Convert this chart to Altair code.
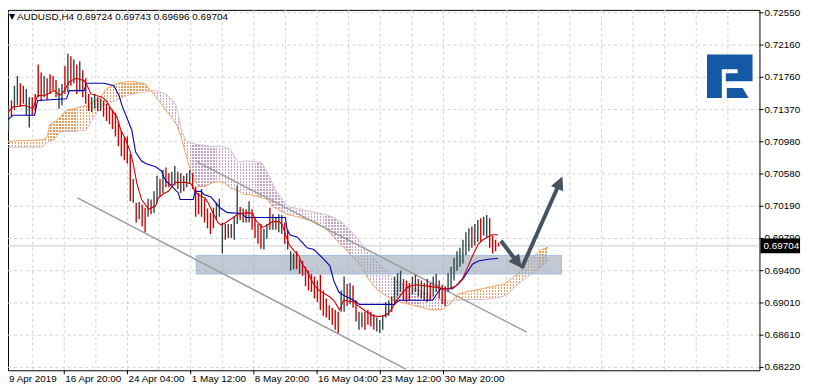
import math
import altair as alt
import pandas as pd

# ---------------- data ----------------
title_text = "AUDUSD,H4 0.69724 0.69743 0.69696 0.69704"
last_price = 0.69704

bar_high = [
    0.7150, 0.7142, 0.7142, 0.7148, 0.7166, 0.7178, 0.7169, 0.7166, 0.7162, 0.7152,
    0.7152, 0.7156, 0.7192, 0.7182, 0.7178, 0.7175, 0.7180, 0.7178, 0.7173, 0.7163,
    0.7168, 0.7190, 0.7205, 0.7202, 0.7198, 0.7192, 0.7196, 0.7185, 0.7175, 0.7156,
    0.7152, 0.7156, 0.7152, 0.7150, 0.7148, 0.7144, 0.7140, 0.7137, 0.7133, 0.7123,
    0.7111, 0.7103, 0.7104, 0.7083, 0.7052, 0.7023, 0.7024, 0.7021, 0.7017, 0.7028,
    0.7027, 0.7037, 0.7056, 0.7052, 0.7063, 0.7066, 0.7059, 0.7061, 0.7068, 0.7061,
    0.7059, 0.7056, 0.7059, 0.7063, 0.7059, 0.7043, 0.7035, 0.7040, 0.7028, 0.7016,
    0.7011, 0.7017, 0.7023, 0.7028, 0.6999, 0.6997, 0.6997, 0.6997, 0.7006, 0.7044,
    0.7018, 0.7016, 0.7015, 0.7025, 0.7015, 0.7004, 0.6997, 0.6997, 0.6991, 0.6997,
    0.7017, 0.7009, 0.7006, 0.7009, 0.7008, 0.6999, 0.6990, 0.6964, 0.6961, 0.6964,
    0.6954, 0.6952, 0.6945, 0.6940, 0.6936, 0.6933, 0.6928, 0.6935, 0.6916, 0.6906,
    0.6898, 0.6895, 0.6892, 0.6890, 0.6916, 0.6933, 0.6924, 0.6925, 0.6922, 0.6904,
    0.6890, 0.6889, 0.6890, 0.6892, 0.6890, 0.6887, 0.6883, 0.6880, 0.6885, 0.6902,
    0.6904, 0.6909, 0.6933, 0.6937, 0.6940, 0.6930, 0.6928, 0.6925, 0.6933, 0.6935,
    0.6930, 0.6928, 0.6925, 0.6930, 0.6925, 0.6933, 0.6936, 0.6928, 0.6923, 0.6921,
    0.6937, 0.6945, 0.6956, 0.6964, 0.6968, 0.6978, 0.6987, 0.6992, 0.6994, 0.6997,
    0.7002, 0.7004, 0.7006, 0.7008, 0.7004, 0.6983, 0.6978, 0.69743,
]
bar_low = [
    0.7127, 0.7121, 0.7110, 0.7128, 0.7136, 0.7142, 0.7140, 0.7144, 0.7130, 0.7115,
    0.7130, 0.7135, 0.7152, 0.7147, 0.7152, 0.7149, 0.7156, 0.7160, 0.7152, 0.7138,
    0.7142, 0.7156, 0.7158, 0.7166, 0.7169, 0.7156, 0.7159, 0.7152, 0.7144, 0.7135,
    0.7134, 0.7138, 0.7135, 0.7135, 0.7128, 0.7123, 0.7119, 0.7113, 0.7104, 0.7092,
    0.7080, 0.7075, 0.7071, 0.7025, 0.7023, 0.6999, 0.7003, 0.6994, 0.6987, 0.7006,
    0.7009, 0.7011, 0.7023, 0.7030, 0.7035, 0.7042, 0.7042, 0.7044, 0.7044, 0.7040,
    0.7035, 0.7037, 0.7042, 0.7047, 0.7040, 0.7006, 0.7009, 0.7006, 0.6999, 0.6992,
    0.6985, 0.6992, 0.7002, 0.7006, 0.6961, 0.6978, 0.6980, 0.6980, 0.6978, 0.6997,
    0.7002, 0.6999, 0.6999, 0.6999, 0.6990, 0.6980, 0.6973, 0.6967, 0.6966, 0.6979,
    0.6990, 0.6990, 0.6990, 0.6987, 0.6985, 0.6973, 0.6966, 0.6940, 0.6942, 0.6942,
    0.6936, 0.6934, 0.6921, 0.6916, 0.6914, 0.6906, 0.6902, 0.6892, 0.6885, 0.6883,
    0.6880, 0.6874, 0.6868, 0.6864, 0.6890, 0.6890, 0.6897, 0.6899, 0.6895, 0.6878,
    0.6868, 0.6871, 0.6868, 0.6874, 0.6872, 0.6868, 0.6866, 0.6864, 0.6868, 0.6883,
    0.6885, 0.6890, 0.6898, 0.6909, 0.6914, 0.6904, 0.6902, 0.6904, 0.6911, 0.6914,
    0.6909, 0.6906, 0.6904, 0.6902, 0.6904, 0.6909, 0.6914, 0.6906, 0.6899, 0.6897,
    0.6914, 0.6918, 0.6928, 0.6940, 0.6945, 0.6949, 0.6959, 0.6964, 0.6968, 0.6971,
    0.6975, 0.6975, 0.6983, 0.6980, 0.6968, 0.6961, 0.6964, 0.69696,
]
# u = bullish bar (dark), d = bearish bar (red)
bar_dir = (
    "dd" "u" "d" "uu" "dd" "uu"
    "dddd" "u" "dddd" "u"
    "ud" "ud" "ud" "ud" "dd"
    "uu" "d" "u" "dddddd"
    "dddd" "u" "d" "u" "dd" "u"
    "d" "uu" "d" "u" "dd" "uu" "d"
    "u" "d" "uu" "ddd" "u" "dd"
    "dd" "uuu" "d" "u" "d" "uu"
    "dudu" "dddd" "uu"
    "dud" "uu" "dd" "uu" "d"
    "u" "ddddddddd"
    "dddd" "uu" "d" "u" "dd"
    "uu" "dddd" "uuuu"
    "u" "d" "uuu" "ddd" "u" "d"
    "udu" "dd" "uu" "ddd"
    "uuuuuuuu" "d" "u"
    "u" "d" "uu" "dddd"
)
assert len(bar_high) == len(bar_low) == len(bar_dir) == 168

tenkan_u = [-0.8, 0.8, 3.5, 7.5, 10.2, 11.8, 14.2, 17.5, 19.2, 20.8, 22.5, 24.8, 27.5, 28.5, 29.8,
            31.5, 33.5, 34.8, 36.5, 38.5, 39.8, 41.5, 43.2, 44.2, 45.2, 46.8, 49.2, 51.5, 52.5, 54.2,
            55.8, 58.2, 61.5, 63.5, 64.8, 65.8, 68.2, 69.2, 70.8, 72.5, 73.5, 74.8, 76.8, 79.2, 82.5,
            84.2, 85.2, 87.5, 89.2, 90.8, 93.2, 94.2, 95.2, 96.5, 98.2, 99.8, 100.8, 102.5, 104.8, 106.5,
            108.5, 110.2, 111.5, 113.5, 114.8, 118.2, 120.2, 122.5, 124.8, 126.8, 129.2, 130.8, 132.5, 134.8, 136.8,
            139.2, 141.5, 143.5, 145.8, 148.2, 150.2, 152.5, 154.8, 156.8, 158.2, 160.2, 161.8, 163.2, 164.8, 166.8]
tenkan_p = [0.7124, 0.7130, 0.7140, 0.7142, 0.7138, 0.7154, 0.7154, 0.7160, 0.7154, 0.7160, 0.7171, 0.7175, 0.7172, 0.7166, 0.7156,
            0.7154, 0.7152, 0.7148, 0.7138, 0.7128, 0.7112, 0.7100, 0.7083, 0.7067, 0.7047, 0.7027, 0.7015, 0.7019, 0.7029, 0.7034,
            0.7037, 0.7048, 0.7048, 0.7046, 0.7037, 0.7033, 0.7029, 0.7023, 0.7011, 0.6999, 0.6996, 0.6998, 0.7003, 0.7009, 0.7011,
            0.7010, 0.7002, 0.6993, 0.6996, 0.7000, 0.7000, 0.6996, 0.6985, 0.6972, 0.6964, 0.6958, 0.6949, 0.6940, 0.6923, 0.6916,
            0.6912, 0.6908, 0.6904, 0.6892, 0.6904, 0.6902, 0.6896, 0.6890, 0.6885, 0.6884, 0.6886, 0.6892, 0.6903, 0.6914, 0.6921,
            0.6923, 0.6922, 0.6921, 0.6920, 0.6918, 0.6918, 0.6921, 0.6930, 0.6946, 0.6958, 0.6973, 0.6978, 0.6981, 0.6984, 0.6984]

kijun_u = [-0.8, 0.8, 3.5, 10.8, 11.8, 21.5, 22.5, 27.5, 28.2, 34.2, 37.5, 39.2, 40.2, 43.5, 44.8,
           46.8, 48.2, 51.5, 53.5, 54.2, 55.2, 56.8, 59.2, 59.8, 64.2, 64.8, 66.8, 67.8, 70.2, 71.8,
           73.2, 74.8, 75.8, 80.8, 81.8, 95.2, 95.8, 96.8, 99.2, 100.8, 102.5, 104.8, 106.5, 108.2, 110.2,
           111.5, 113.2, 114.8, 118.2, 120.2, 131.8, 133.5, 144.8, 146.8, 147.5, 151.5, 153.5, 155.2, 156.8, 158.2,
           160.2, 163.5, 166.8]
kijun_p = [0.7118, 0.7121, 0.7130, 0.7130, 0.7148, 0.7150, 0.7160, 0.7160, 0.7169, 0.7169, 0.7166, 0.7154, 0.7142, 0.7112, 0.7085,
           0.7074, 0.7071, 0.7067, 0.7062, 0.7055, 0.7049, 0.7044, 0.7035, 0.7027, 0.7027, 0.7037, 0.7037, 0.7033, 0.7030, 0.7023,
           0.7017, 0.7013, 0.7011, 0.7010, 0.7005, 0.7005, 0.6990, 0.6984, 0.6981, 0.6975, 0.6968, 0.6966, 0.6960, 0.6954, 0.6946,
           0.6928, 0.6914, 0.6910, 0.6904, 0.6899, 0.6899, 0.6904, 0.6904, 0.6915, 0.6918, 0.6918, 0.6924, 0.6931, 0.6940, 0.6948,
           0.6952, 0.6954, 0.6955]

cloud_u = [-0.8, 2.5, 5.8, 9.2, 13.2, 14.2, 15.2, 15.8, 17.5, 19.2, 21.5, 24.2, 28.2, 30.8, 32.5,
           33.8, 34.8, 37.5, 39.2, 41.8, 44.2, 46.5, 48.2, 49.2, 50.2, 51.5, 52.5, 54.8, 56.8, 58.5,
           60.2, 61.5, 63.5, 65.8, 68.2, 70.2, 72.5, 74.8, 76.8, 79.2, 81.5, 83.5, 85.8, 87.5, 89.2,
           90.8, 92.5, 95.8, 100.2, 105.8, 109.2, 111.5, 114.8, 116.8, 119.2, 120.8, 123.2, 125.8, 129.2, 131.5,
           135.8, 140.2, 144.8, 148.2, 150.8, 152.5, 153.5, 156.8, 161.5, 164.8, 168.2, 170.2, 172.5, 174.8, 176.8,
           179.2, 181.5, 183.8]
span_a = [0.7098, 0.7098, 0.7099, 0.7099, 0.7100, 0.7100, 0.7106, 0.7118, 0.7122, 0.7127, 0.7136, 0.7138, 0.7142, 0.7147, 0.7150,
          0.7156, 0.7162, 0.7167, 0.7169, 0.7171, 0.7171, 0.7169, 0.7168, 0.7163, 0.7159, 0.7153, 0.7148, 0.7137, 0.7128, 0.7119,
          0.7103, 0.7085, 0.7059, 0.7043, 0.7043, 0.7047, 0.7049, 0.7047, 0.7041, 0.7038, 0.7033, 0.7033, 0.7031, 0.7029, 0.7027,
          0.7019, 0.7015, 0.7009, 0.7005, 0.6999, 0.6990, 0.6981, 0.6969, 0.6961, 0.6952, 0.6945, 0.6930, 0.6918, 0.6909, 0.6904,
          0.6900, 0.6896, 0.6892, 0.6893, 0.6900, 0.6908, 0.6912, 0.6915, 0.6918, 0.6921, 0.6923, 0.6927, 0.6934, 0.6942, 0.6952,
          0.6959, 0.6966, 0.6969]
span_b = [0.7091, 0.7091, 0.7091, 0.7091, 0.7091, 0.7094, 0.7097, 0.7098, 0.7100, 0.7109, 0.7110, 0.7110, 0.7112, 0.7128, 0.7136,
          0.7142, 0.7143, 0.7147, 0.7150, 0.7154, 0.7156, 0.7158, 0.7158, 0.7159, 0.7160, 0.7160, 0.7159, 0.7156, 0.7150, 0.7142,
          0.7112, 0.7100, 0.7096, 0.7094, 0.7093, 0.7092, 0.7092, 0.7091, 0.7088, 0.7073, 0.7074, 0.7074, 0.7073, 0.7071, 0.7059,
          0.7047, 0.7035, 0.7019, 0.7015, 0.7011, 0.7008, 0.7005, 0.6997, 0.6990, 0.6981, 0.6973, 0.6964, 0.6952, 0.6940, 0.6931,
          0.6922, 0.6916, 0.6909, 0.6904, 0.6903, 0.6904, 0.6904, 0.6905, 0.6905, 0.6906, 0.6908, 0.6912, 0.6920, 0.6927, 0.6933,
          0.6939, 0.6945, 0.6954]
assert len(cloud_u) == len(span_a) == len(span_b)

channel_u = [[25.2, 135.8], [65.5, 176.5]]
channel_p = [[0.7029, 0.6820], [0.7073, 0.6865]]
zone_u = [65.2, 188.2]
zone_p = [0.69587, 0.69361]
arrow_u = [[167.8, 174.8], [174.8, 188.5]]
arrow_p = [[0.69766, 0.69433], [0.69433, 0.70551]]

price_labels = ["0.72550", "0.72160", "0.71760", "0.71370", "0.70980", "0.70580",
                "0.70190", "0.69790", "0.69400", "0.69010", "0.68610", "0.68220"]
time_labels = ["9 Apr 2019", "16 Apr 20:00", "24 Apr 04:00", "1 May 12:00",
               "8 May 20:00", "16 May 04:00", "23 May 12:00", "30 May 20:00"]

# ---------------- layout / styling ----------------
W, H = 759, 364
PXU = 3.0
X_DOM = [1.8333, 1.8333 + W / PXU]
Y_DOM = [0.68185, 0.72586]
YS = H / (Y_DOM[1] - Y_DOM[0])
FONT = "Liberation Sans"

BULL, BEAR = "#2a4848", "#d00000"
TENKAN, KIJUN = "#d00000", "#0000b0"
SA_LINE, SB_LINE = "#f4a460", "#d8bfd8"
HATCH_UP, HATCH_DN = "#ee9e58", "#c6a2c6"
CHANNEL = "#9c9c9c"
ARROW = "#46525e"
GRID = "#d2d2d2"

xs = alt.Scale(domain=X_DOM, nice=False, zero=False)
ys = alt.Scale(domain=Y_DOM, nice=False, zero=False)


def X(f):
    return alt.X(f, type="quantitative", scale=xs, axis=None)


def Y(f):
    return alt.Y(f, type="quantitative", scale=ys, axis=None)


p_top = float(price_labels[0])
p_bot = float(price_labels[-1])
step = (p_top - p_bot) / (len(price_labels) - 1)
grid_prices = [p_top - k * step for k in range(len(price_labels))]
ygrid = pd.DataFrame({"p": grid_prices, "t": price_labels})

layers = []

# horizontal dashed grid
layers.append(alt.Chart(ygrid).mark_rule(color=GRID, strokeDash=[3, 3], strokeWidth=1).encode(
    y=Y("p"), x=alt.value(0), x2=alt.value(W)))

# vertical grid lines
grid_step = (W + 7) / 24 / PXU
vgrid = pd.DataFrame({"u": [-0.5 + k * grid_step for k in range(1, 24)]})
layers.append(alt.Chart(vgrid).mark_rule(color=GRID, strokeDash=[3, 3], strokeWidth=1).encode(
    x=X("u"), y=alt.value(0), y2=alt.value(H)))

# bid line
layers.append(alt.Chart(pd.DataFrame({"p": [last_price]})).mark_rule(color="#c8c8c8", strokeWidth=1).encode(
    y=Y("p"), x=alt.value(0), x2=alt.value(W)))


# Ichimoku cloud, split where the spans cross
def stripe_stops(color, size_px, on_px=1.0, pitch=3.0):
    n = max(1, int(round(size_px / pitch)))
    clear = "rgba(255,255,255,0)"
    stops = []
    for j in range(n):
        o0 = round(j / n, 6)
        o1 = round(min(1.0, (j + on_px / pitch) / n), 6)
        o2 = round(min(1.0, (j + 1) / n), 6)
        stops += [alt.GradientStop(color=color, offset=o0), alt.GradientStop(color=color, offset=o1),
                  alt.GradientStop(color=clear, offset=o1), alt.GradientStop(color=clear, offset=o2)]
    return stops


segments = []
cur = []
prev = None
for k in range(len(cloud_u)):
    up = span_a[k] >= span_b[k]
    if prev is not None and up != prev:
        d0 = span_a[k - 1] - span_b[k - 1]
        d1 = span_a[k] - span_b[k]
        t = d0 / (d0 - d1)
        uc = cloud_u[k - 1] + t * (cloud_u[k] - cloud_u[k - 1])
        pc = span_a[k - 1] + t * (span_a[k] - span_a[k - 1])
        cur.append((uc, pc, pc))
        segments.append((prev, cur))
        cur = [(uc, pc, pc)]
    cur.append((cloud_u[k], span_a[k], span_b[k]))
    prev = up
segments.append((prev, cur))

for up, rows in segments:
    df = pd.DataFrame(rows, columns=["u", "a", "b"])
    wpx = (df.u.max() - df.u.min()) * PXU
    hpx = (max(df.a.max(), df.b.max()) - min(df.a.min(), df.b.min())) * YS
    col = HATCH_UP if up else HATCH_DN
    g_cols = alt.LinearGradient(gradient="linear", stops=stripe_stops(col, wpx, 1.4), x1=0, x2=1, y1=0, y2=0)
    g_rows = alt.LinearGradient(gradient="linear", stops=stripe_stops("#ffffff", hpx, 1.0), x1=0, x2=0, y1=0, y2=1)
    base = alt.Chart(df)
    layers.append(base.mark_area(fill=g_cols, opacity=1, clip=True, orient="vertical").encode(
        x=X("u"), y=Y("a"), y2="b:Q"))
    layers.append(base.mark_area(fill=g_rows, opacity=1, clip=True, orient="vertical").encode(
        x=X("u"), y=Y("a"), y2="b:Q"))

cloud_df = pd.DataFrame({"u": cloud_u, "a": span_a, "b": span_b})
layers.append(alt.Chart(cloud_df).mark_line(color=SB_LINE, strokeWidth=1, clip=True).encode(x=X("u"), y=Y("b")))
layers.append(alt.Chart(cloud_df).mark_line(color=SA_LINE, strokeWidth=1, clip=True).encode(x=X("u"), y=Y("a")))

# support zone
zone_df = pd.DataFrame({"u0": [zone_u[0]], "u1": [zone_u[1]], "p0": [zone_p[0]], "p1": [zone_p[1]]})
layers.append(alt.Chart(zone_df).mark_rect(fill="#98a6b8", fillOpacity=0.6, stroke="#a2bce2", strokeWidth=1).encode(
    x=X("u0"), x2="u1:Q", y=Y("p0"), y2="p1:Q"))

# channel lines
ch_rows = []
for lid in range(2):
    for j in range(2):
        ch_rows.append({"line": lid, "u": channel_u[lid][j], "p": channel_p[lid][j]})
layers.append(alt.Chart(pd.DataFrame(ch_rows)).mark_line(color=CHANNEL, strokeWidth=1.5, clip=True).encode(
    x=X("u"), y=Y("p"), detail="line:N"))

# OHLC bars
bars = pd.DataFrame({"u": list(range(len(bar_high))), "hi": bar_high, "lo": bar_low, "dir": list(bar_dir)})
layers.append(alt.Chart(bars).mark_rule(strokeWidth=1.4, clip=True).encode(
    x=X("u"), y=Y("hi"), y2="lo:Q",
    color=alt.Color("dir:N", scale=alt.Scale(domain=["u", "d"], range=[BULL, BEAR]), legend=None)))

# Ichimoku lines
layers.append(alt.Chart(pd.DataFrame({"u": kijun_u, "p": kijun_p})).mark_line(
    color=KIJUN, strokeWidth=1.1, clip=True).encode(x=X("u"), y=Y("p")))
layers.append(alt.Chart(pd.DataFrame({"u": tenkan_u, "p": tenkan_p})).mark_line(
    color=TENKAN, strokeWidth=1.1, clip=True).encode(x=X("u"), y=Y("p")))

# arrows
HEAD = 8.0
a_lines, a_heads = [], []
for aid in range(2):
    u0, u1 = arrow_u[aid]
    p0, p1 = arrow_p[aid]
    dx = (u1 - u0) * PXU
    dy = -(p1 - p0) * YS
    L = math.hypot(dx, dy)
    f = (L - HEAD) / L
    a_lines += [{"a": aid, "u": u0, "p": p0}, {"a": aid, "u": u0 + f * (u1 - u0), "p": p0 + f * (p1 - p0)}]
    a_heads.append({"u": u1, "p": p1, "ang": math.degrees(math.atan2(dx, -dy)) % 360})
layers.append(alt.Chart(pd.DataFrame(a_lines)).mark_line(color=ARROW, strokeWidth=4, strokeCap="butt").encode(
    x=X("u"), y=Y("p"), detail="a:N"))
layers.append(alt.Chart(pd.DataFrame(a_heads)).mark_point(
    shape="M0,0L1,2L-1,2Z", filled=True, size=180, color=ARROW, opacity=1).encode(
    x=X("u"), y=Y("p"), angle=alt.Angle("ang:Q", scale=None)))

# price scale on the right: ticks and labels
layers.append(alt.Chart(ygrid).mark_rule(color="#000", strokeWidth=1).encode(
    y=Y("p"), x=alt.value(W), x2=alt.value(W + 4)))
layers.append(alt.Chart(ygrid).mark_text(align="left", baseline="middle", font=FONT, fontSize=10,
                                        color="#000").encode(x=alt.value(W + 5), y=Y("p"), text="t:N"))

# current price box on the price scale
box_h = 7.5 / YS
layers.append(alt.Chart(pd.DataFrame({"p0": [last_price + box_h], "p1": [last_price - box_h]})).mark_rect(
    color="#000").encode(x=alt.value(W + 1), x2=alt.value(W + 41), y=Y("p0"), y2="p1:Q"))
layers.append(alt.Chart(pd.DataFrame({"p": [last_price], "t": ["%.5f" % last_price]})).mark_text(
    color="#fff", align="left", baseline="middle", font=FONT, fontSize=10).encode(
    x=alt.value(W + 4), y=Y("p"), text="t:N"))

# time axis: ticks and labels
tick_u = [-0.5 + k * grid_step for k in range(0, 16, 2)]
lab_u = [max(X_DOM[0], u) for u in tick_u]
tdf = pd.DataFrame({"u": lab_u, "t": time_labels})
layers.append(alt.Chart(pd.DataFrame({"u": tick_u[1:]})).mark_rule(color="#000").encode(
    x=X("u"), y=alt.value(H), y2=alt.value(H + 4)))
layers.append(alt.Chart(tdf).mark_text(align="left", baseline="middle", dx=1, font=FONT, fontSize=10,
                                       color="#000").encode(x=X("u"), y=alt.value(H + 9), text="t:N"))

# header text
layers.append(alt.Chart(pd.DataFrame({"t": ["\u25bc"]})).mark_text(
    align="left", baseline="middle", font="DejaVu Sans", fontSize=8, color="#000").encode(
    x=alt.value(1), y=alt.value(7), text="t:N"))
layers.append(alt.Chart(pd.DataFrame({"t": [title_text]})).mark_text(
    align="left", baseline="middle", font=FONT, fontSize=10, color="#000").encode(
    x=alt.value(9), y=alt.value(7), text="t:N"))

# broker logo
logo_path = ("M-1,-0.957H1V0.217H-0.174V-0.13H0.348V-0.304H-0.348V0.957H-1Z"
             "M-0.13,0.522H0.565L0.826,0.957H-0.13Z")
layers.append(alt.Chart(pd.DataFrame({"k": [0]})).mark_point(
    shape=logo_path, filled=True, size=2116, color="#1559a6", opacity=1).encode(
    x=alt.value(729), y=alt.value(67)))

chart = alt.layer(*layers).properties(
    width=W, height=H,
    padding={"left": 0, "top": 0, "right": 47, "bottom": 16},
    autosize=alt.AutoSizeParams(type="none"),
    background="white",
).configure_view(stroke="#000", strokeWidth=1)

chart.save("out.html", embed_options={"renderer": "svg", "actions": False})
